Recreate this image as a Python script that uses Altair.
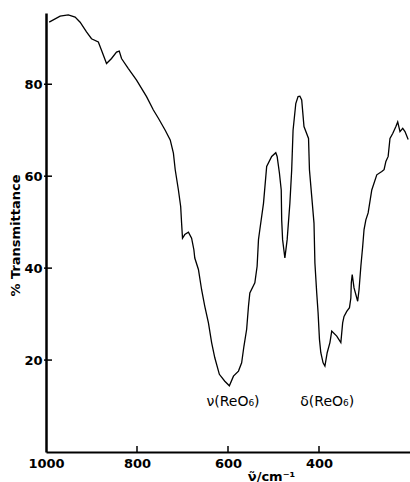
import altair as alt
import pandas as pd

wavenumber = [993, 969, 951, 936, 925, 911, 900, 885, 878, 867, 856, 845, 839, 834,
              819, 801, 779, 764, 753, 738, 727, 720, 716, 709, 704, 702, 700, 695,
              687, 680, 675, 673, 665, 658, 651, 643, 636, 629, 619, 607, 597, 588,
              577, 570, 565, 559, 555, 552, 541, 536, 533, 530, 522, 515, 504, 495,
              492, 487, 483, 482, 480, 475, 470, 464, 460, 457, 451, 446, 442, 438,
              433, 423, 421, 416, 411, 409, 405, 402, 399, 396, 391, 387, 382, 376,
              372, 361, 352, 348, 345, 339, 333, 330, 329, 327, 323, 315, 312, 308,
              304, 301, 297, 292, 284, 273, 262, 257, 253, 248, 244, 238, 231, 227,
              222, 216, 211, 204]
transmittance = [93.5, 94.8, 95.1, 94.6, 93.5, 91.4, 89.9, 89.2, 87.4, 84.5, 85.6, 87.0,
                 87.2, 85.6, 83.4, 80.9, 77.3, 74.4, 72.6, 70.0, 67.9, 65.0, 61.4, 57.0,
                 53.4, 49.8, 46.5, 47.3, 47.8, 46.5, 44.0, 42.2, 39.7, 35.3, 31.7, 28.1,
                 23.8, 20.5, 16.9, 15.4, 14.4, 16.5, 17.6, 19.4, 23.0, 26.7, 31.7, 34.6,
                 36.8, 40.4, 46.2, 48.4, 54.1, 62.1, 64.3, 65.1, 64.3, 60.7, 57.0, 50.5,
                 46.2, 42.2, 46.2, 54.1, 61.4, 70.0, 75.8, 77.3, 77.4, 76.6, 70.8, 68.2,
                 61.4, 55.6, 49.8, 41.1, 34.6, 30.3, 24.5, 21.6, 19.4, 18.7, 21.6, 23.8,
                 26.3, 25.2, 23.8, 28.1, 29.5, 30.6, 31.4, 33.5, 36.8, 38.6, 35.7, 32.8,
                 35.3, 40.4, 44.7, 48.4, 50.5, 52.0, 57.0, 60.3, 61.0, 61.4, 63.2, 64.3,
                 68.2, 69.3, 70.8, 71.8, 69.7, 70.4, 69.7, 68.0]

x_tick_labels = [1000, 800, 600, 400]
x_inner_ticks = [800, 600, 400]
y_tick_labels = [20, 40, 60, 80]

ann_x = [589, 382]
ann_y = [10.8, 10.8]
ann_text = ["ν(ReO₆)", "δ(ReO₆)"]

FONT = "DejaVu Sans"
W, H = 364, 439

xscale = alt.Scale(domain=[200, 1000], reverse=True, nice=False, zero=False)
yscale = alt.Scale(domain=[0, 95.5], nice=False, zero=False)

xaxis = alt.Axis(values=x_tick_labels, format="d", title="ν̃/cm⁻¹", grid=False,
                 domainColor="black", domainWidth=2, ticks=False,
                 labelFlush=False, labelOverlap=False,
                 labelPadding=5, labelFont=FONT, labelFontSize=13,
                 labelFontWeight="bold", labelColor="black",
                 titleFont=FONT, titleFontSize=13,
                 titleFontWeight="bold", titleColor="black",
                 titleX=225, titleY=18, titleBaseline="top",
                 titleAlign="center")
yaxis = alt.Axis(values=y_tick_labels, format="d", title="% Transmittance", grid=False,
                 domainColor="black", domainWidth=2.5, ticks=False,
                 labelFlush=False,
                 labelPadding=4, labelFont=FONT, labelFontSize=13,
                 labelFontWeight="bold", labelColor="black",
                 titleFont=FONT, titleFontSize=13,
                 titleFontWeight="bold", titleColor="black",
                 titleX=-31, titleY=222, titleBaseline="middle",
                 titleAlign="center")

df = pd.DataFrame({"i": list(range(len(wavenumber))), "x": wavenumber, "y": transmittance})

line = alt.Chart(df).mark_line(color="black", strokeWidth=1.3, clip=True).encode(
    x=alt.X("x:Q", scale=xscale, axis=xaxis),
    y=alt.Y("y:Q", scale=yscale, axis=yaxis),
    order="i:Q",
)

xt = pd.DataFrame({"x": x_inner_ticks})
x_ticks = alt.Chart(xt).mark_rule(color="black", strokeWidth=1.5).encode(
    x=alt.X("x:Q", scale=xscale, axis=xaxis),
    y=alt.value(H),
    y2=alt.value(H - 6),
)

yt = pd.DataFrame({"y": y_tick_labels})
y_ticks = alt.Chart(yt).mark_rule(color="black", strokeWidth=1.5).encode(
    y=alt.Y("y:Q", scale=yscale, axis=yaxis),
    x=alt.value(-2),
    x2=alt.value(6),
)

ann = pd.DataFrame({"x": ann_x, "y": ann_y, "text": ann_text})
labels = alt.Chart(ann).mark_text(font=FONT, fontSize=14, color="black").encode(
    x=alt.X("x:Q", scale=xscale, axis=xaxis),
    y=alt.Y("y:Q", scale=yscale, axis=yaxis),
    text="text:N",
)

chart = alt.layer(line, x_ticks, y_ticks, labels).properties(
    width=W, height=H,
    autosize=alt.AutoSizeParams(type="none"),
    padding={"left": 46, "top": 13, "right": 0, "bottom": 30},
    background="white",
).configure_view(stroke=None)

chart.save("out.html", embed_options={"renderer": "svg", "actions": False})
